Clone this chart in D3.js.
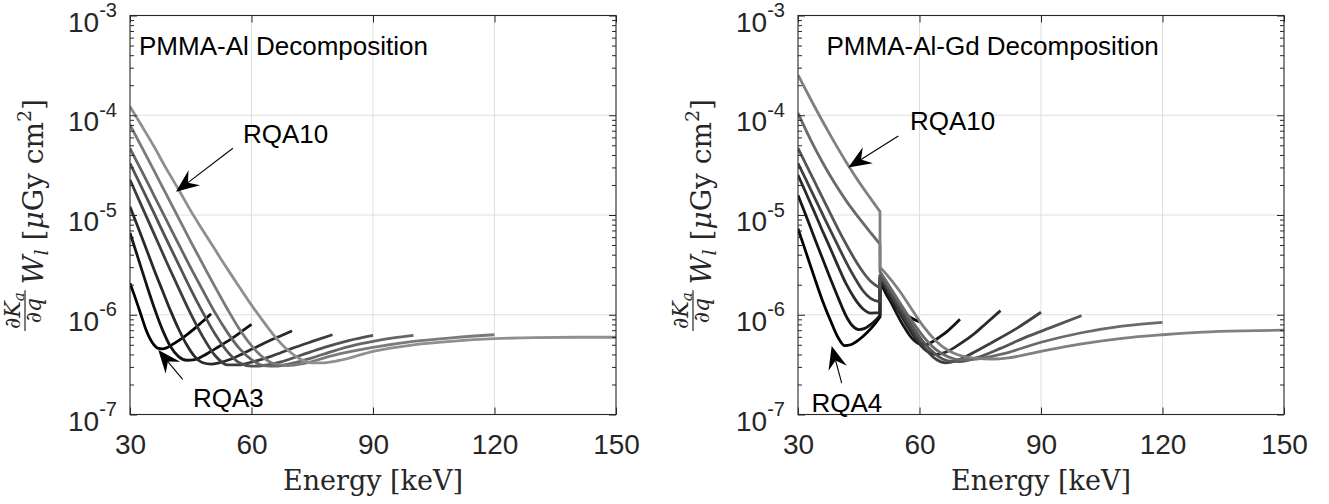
<!DOCTYPE html>
<html><head><meta charset="utf-8">
<script src="https://cdn.jsdelivr.net/npm/d3@7"></script>
<style>body{margin:0;background:#fff} svg{display:block}</style>
</head><body><svg id="c" width="1329" height="504"></svg>
<script>
// ---------------- data ----------------
const energyTicks = [30, 60, 90, 120, 150];
const decadeExps = [-7, -6, -5, -4, -3];
const gdKEdge = 50.25;

const alLabels = ["RQA3","RQA4","RQA5","RQA6","RQA7","RQA8","RQA9","RQA10"];
const alRQA3 = [[30,2.07e-6],[31,1.6e-6],[32,1.22e-6],[33,9.2e-7],[34,7.0e-7],[35,5.7e-7],[36,4.95e-7],[37,4.6e-7],[38,4.55e-7],[39,4.65e-7],[40,4.9e-7],[42,5.5e-7],[44,6.3e-7],[46,7.3e-7],[48,8.6e-7],[50,1.02e-6]];
const alRQA4 = [[30,6.6e-6],[32,3.7e-6],[34,2.05e-6],[36,1.17e-6],[38,7.1e-7],[40,4.8e-7],[42,3.8e-7],[44,3.5e-7],[46,3.55e-7],[48,3.85e-7],[50,4.3e-7],[52,4.8e-7],[54,5.4e-7],[56,6.1e-7],[58,7.0e-7],[60,8.0e-7]];
const alRQA5 = [[30,1.21e-5],[32,7.5e-6],[34,4.6e-6],[36,2.8e-6],[38,1.75e-6],[40,1.1e-6],[42,7.2e-7],[44,5.0e-7],[46,3.8e-7],[48,3.3e-7],[50,3.2e-7],[52,3.3e-7],[55,3.6e-7],[58,4.1e-7],[61,4.7e-7],[64,5.4e-7],[67,6.1e-7],[70,6.9e-7]];
const alRQA6 = [[30,2.25e-5],[33,1.2e-5],[36,6.4e-6],[39,3.4e-6],[42,1.85e-6],[45,1.02e-6],[48,6.0e-7],[51,3.9e-7],[54,3.15e-7],[57,3.15e-7],[60,3.35e-7],[65,3.85e-7],[70,4.6e-7],[75,5.4e-7],[80,6.3e-7]];
const alRQA7 = [[30,3.3e-5],[33,1.85e-5],[36,1.03e-5],[39,5.7e-6],[42,3.2e-6],[45,1.8e-6],[48,1.05e-6],[51,6.4e-7],[54,4.3e-7],[57,3.3e-7],[60,3.05e-7],[63,3.1e-7],[67,3.35e-7],[72,3.9e-7],[78,4.7e-7],[84,5.5e-7],[90,6.2e-7]];
const alRQA8 = [[30,4.66e-5],[33,2.7e-5],[36,1.55e-5],[39,8.9e-6],[42,5.1e-6],[45,2.95e-6],[48,1.75e-6],[51,1.05e-6],[54,6.7e-7],[57,4.6e-7],[60,3.55e-7],[63,3.1e-7],[66,3.05e-7],[70,3.25e-7],[75,3.7e-7],[80,4.3e-7],[85,4.9e-7],[90,5.4e-7],[95,5.85e-7],[100,6.2e-7]];
const alRQA9 = [[30,8.0e-5],[33,4.7e-5],[36,2.75e-5],[39,1.6e-5],[42,9.3e-6],[45,5.4e-6],[48,3.2e-6],[51,1.9e-6],[54,1.15e-6],[57,7.2e-7],[60,4.9e-7],[63,3.7e-7],[66,3.2e-7],[69,3.1e-7],[73,3.25e-7],[80,3.9e-7],[90,4.7e-7],[100,5.4e-7],[110,5.9e-7],[120,6.3e-7]];
const alRQA10 = [[30,1.22e-4],[33,7.7e-5],[36,4.8e-5],[39,2.9e-5],[42,1.8e-5],[45,1.1e-5],[48,7.0e-6],[51,4.5e-6],[54,2.9e-6],[57,1.9e-6],[60,1.25e-6],[63,8.5e-7],[66,5.9e-7],[69,4.4e-7],[72,3.6e-7],[75,3.3e-7],[78,3.3e-7],[82,3.5e-7],[90,4.3e-7],[100,5.0e-7],[110,5.45e-7],[120,5.75e-7],[130,5.9e-7],[140,5.95e-7],[150,5.95e-7]];

const gdLabels = ["RQA4","RQA5","RQA6","RQA7","RQA8","RQA9","RQA10"];
const gdRQA4 = [[30,7.3e-6],[32,4.2e-6],[34,2.4e-6],[36,1.4e-6],[38,8.8e-7],[40,5.8e-7],[41.5,4.9e-7],[43,5.0e-7],[45,5.6e-7],[47,6.6e-7],[49,8.1e-7],[50.24,9.5e-7],[50.26,2.2e-6],[52,1.55e-6],[54,1.2e-6],[56,1.03e-6],[58,9.3e-7],[60,8.5e-7]];
const gdRQA5 = [[30,1.58e-5],[32,9.8e-6],[34,6.0e-6],[36,3.7e-6],[38,2.3e-6],[40,1.45e-6],[42,9.5e-7],[43.5,7.7e-7],[45,7.1e-7],[46.5,7.3e-7],[48,8.0e-7],[50.24,9.8e-7],[50.26,2.3e-6],[52,1.6e-6],[54,1.1e-6],[56,7.8e-7],[58,5.9e-7],[60,5.1e-7],[61.5,5.0e-7],[63,5.3e-7],[65,6.0e-7],[67,6.9e-7],[70,9.0e-7]];
const gdRQA6 = [[30,2.52e-5],[32,1.65e-5],[34,1.08e-5],[36,7.0e-6],[38,4.6e-6],[40,3.0e-6],[42,2.0e-6],[44,1.45e-6],[46,1.15e-6],[48,1.04e-6],[50.24,1.05e-6],[50.26,2.4e-6],[52,1.75e-6],[55,1.05e-6],[58,6.6e-7],[61,4.6e-7],[64,4.0e-7],[67,4.3e-7],[70,5.1e-7],[73,6.2e-7],[76,7.9e-7],[80,1.1e-6]];
const gdRQA7 = [[30,3.3e-5],[32,2.25e-5],[34,1.52e-5],[36,1.03e-5],[38,7.0e-6],[40,4.8e-6],[42,3.3e-6],[44,2.35e-6],[46,1.75e-6],[48,1.45e-6],[50.24,1.35e-6],[50.26,2.45e-6],[52,1.85e-6],[55,1.15e-6],[58,7.2e-7],[61,4.8e-7],[64,3.6e-7],[66.5,3.3e-7],[69,3.45e-7],[73,4.1e-7],[78,5.3e-7],[84,7.3e-7],[90,1.06e-6]];
const gdRQA8 = [[30,4.67e-5],[32,3.2e-5],[34,2.2e-5],[36,1.5e-5],[38,1.03e-5],[40,7.1e-6],[42,5.0e-6],[44,3.6e-6],[46,2.7e-6],[48,2.15e-6],[50.24,1.85e-6],[50.26,2.5e-6],[52,1.95e-6],[55,1.25e-6],[58,8.0e-7],[61,5.3e-7],[64,4.0e-7],[67,3.45e-7],[70,3.4e-7],[74,3.7e-7],[80,4.6e-7],[86,5.9e-7],[93,7.6e-7],[100,9.8e-7]];
const gdRQA9 = [[30,1.05e-4],[33,5.8e-5],[36,3.4e-5],[39,2.1e-5],[42,1.37e-5],[45,9.4e-6],[48,6.6e-6],[50.24,5.1e-6],[50.26,2.7e-6],[52,2.1e-6],[55,1.35e-6],[58,8.8e-7],[61,6.0e-7],[64,4.5e-7],[67,3.8e-7],[70,3.55e-7],[74,3.6e-7],[80,4.0e-7],[90,5.3e-7],[100,6.6e-7],[110,7.7e-7],[120,8.4e-7]];
const gdRQA10 = [[30,2.53e-4],[33,1.48e-4],[36,8.8e-5],[39,5.35e-5],[42,3.34e-5],[45,2.16e-5],[48,1.45e-5],[50.24,1.08e-5],[50.26,3.0e-6],[52,2.5e-6],[55,1.75e-6],[58,1.15e-6],[61,7.6e-7],[64,5.5e-7],[67,4.4e-7],[70,3.9e-7],[74,3.65e-7],[78,3.6e-7],[82,3.7e-7],[90,4.3e-7],[100,5.1e-7],[110,5.8e-7],[120,6.3e-7],[130,6.7e-7],[140,6.9e-7],[150,7.0e-7]];

const alCurves = [alRQA3, alRQA4, alRQA5, alRQA6, alRQA7, alRQA8, alRQA9, alRQA10];
const gdCurves = [gdRQA4, gdRQA5, gdRQA6, gdRQA7, gdRQA8, gdRQA9, gdRQA10];

const alTitle = "PMMA-Al Decomposition";
const gdTitle = "PMMA-Al-Gd Decomposition";
const alNotes = [{text:"RQA10", at:[57.9,5.27e-5]}, {text:"RQA3", at:[45.56,1.19e-7]}];
const alArrows = [{from:[55.4,4.67e-5], to:[41.36,1.71e-5]}, {from:[43.0,2.25e-7], to:[36.99,4.43e-7]}];
const gdNotes = [{text:"RQA10", at:[57.65,7.11e-5]}, {text:"RQA4", at:[33.33,1.06e-7]}];
const gdArrows = [{from:[54.77,6.19e-5], to:[42.42,3.0e-5]}, {from:[40.79,2.06e-7], to:[38.32,4.86e-7]}];

// ---------------- drawing ----------------
const svg = d3.select("#c");
const W = 486, TOP = 15.5, BOTTOM = 414.5;
const AX = "#262626";
const SANS = "'Liberation Sans', Arial, sans-serif";
const SERIF = "'DejaVu Serif', serif";

function drawPanel(cfg) {
  const L = cfg.left;
  const x = d3.scaleLinear().domain([30, 150]).range([L, L + W]);
  const y = d3.scaleLog().domain([1e-7, 1e-3]).range([BOTTOM, TOP]);
  const g = svg.append("g");

  // grid
  g.selectAll(null).data(energyTicks.slice(1, -1)).join("line")
    .attr("x1", d => x(d)).attr("x2", d => x(d)).attr("y1", TOP).attr("y2", BOTTOM)
    .attr("stroke", "#dfdfdf").attr("stroke-width", 1);
  g.selectAll(null).data(decadeExps.slice(1, -1).map(e => Math.pow(10, e))).join("line")
    .attr("x1", L).attr("x2", L + W).attr("y1", d => y(d)).attr("y2", d => y(d))
    .attr("stroke", "#dfdfdf").attr("stroke-width", 1);

  // clip
  const cid = "clip" + L;
  svg.append("clipPath").attr("id", cid).append("rect")
    .attr("x", L).attr("y", TOP).attr("width", W).attr("height", BOTTOM - TOP);

  const line = d3.line().x(d => x(d[0])).y(d => y(d[1])).curve(d3.curveMonotoneX);
  const n = cfg.curves.length;
  const cg = g.append("g").attr("clip-path", `url(#${cid})`);
  cfg.curves.forEach((c, i) => {
    const lv = Math.round(255 * cfg.maxGray * i / (n - 1));
    const col = d3.rgb(lv, lv, lv).formatHex();
    let dPath;
    const pre = c.filter(p => p[0] < gdKEdge), post = c.filter(p => p[0] >= gdKEdge);
    if (cfg.edge && post.length && pre.length) {
      dPath = line(pre) + "L" + line(post).slice(1);
    } else {
      dPath = line(c);
    }
    cg.append("path").attr("d", dPath).attr("fill", "none")
      .attr("stroke", col).attr("stroke-width", 2.8)
      .attr("stroke-linejoin", "round").attr("stroke-linecap", "butt");
  });

  // axes (ticks inward on all sides)
  const majorY = decadeExps.map(e => Math.pow(10, e));
  const minorY = [];
  decadeExps.slice(0, -1).forEach(e => { for (let m = 2; m <= 9; m++) minorY.push(m * Math.pow(10, e)); });

  const styleAxis = sel => { sel.select(".domain").remove(); sel.selectAll("line").attr("stroke", AX); };

  svg.append("g").attr("transform", `translate(0,${BOTTOM})`)
    .call(d3.axisBottom(x).tickValues(energyTicks).tickSizeInner(-7).tickSizeOuter(0).tickPadding(20).tickFormat(d3.format("d")))
    .call(styleAxis)
    .call(s => s.selectAll("text").attr("font-family", SANS).attr("font-size", 28).attr("fill", AX));
  svg.append("g").attr("transform", `translate(0,${TOP})`)
    .call(d3.axisTop(x).tickValues(energyTicks).tickSizeInner(-7).tickSizeOuter(0).tickFormat(""))
    .call(styleAxis);
  [[d3.axisLeft, L], [d3.axisRight, L + W]].forEach(([ax, px]) => {
    svg.append("g").attr("transform", `translate(${px},0)`)
      .call(ax(y).tickValues(majorY).tickSizeInner(-7).tickSizeOuter(0).tickFormat(""))
      .call(styleAxis);
    svg.append("g").attr("transform", `translate(${px},0)`)
      .call(ax(y).tickValues(minorY).tickSizeInner(-4).tickSizeOuter(0).tickFormat(""))
      .call(styleAxis);
  });

  // y tick labels 10^e
  decadeExps.forEach(e => {
    const t = svg.append("text").attr("x", L - 13).attr("y", y(Math.pow(10, e)) + 16)
      .attr("text-anchor", "end").attr("font-family", SANS).attr("fill", AX).attr("font-size", 28);
    t.append("tspan").text("10");
    t.append("tspan").attr("font-size", 20).attr("dy", -14.5).text(String(e));
  });

  // box
  svg.append("rect").attr("x", L).attr("y", TOP).attr("width", W).attr("height", BOTTOM - TOP)
    .attr("fill", "none").attr("stroke", AX).attr("stroke-width", 1.1);

  // title inside axes
  svg.append("text").attr("x", L + cfg.titleDx).attr("y", TOP + 39.5)
    .attr("font-family", SANS).attr("font-size", 26).attr("fill", "#000").text(cfg.title);

  // notes
  cfg.notes.forEach(nt => {
    svg.append("text").attr("x", x(nt.at[0])).attr("y", y(nt.at[1]))
      .attr("font-family", SANS).attr("font-size", 26).attr("fill", "#000").text(nt.text);
  });
  // arrows
  cfg.arrows.forEach(a => {
    const x0 = x(a.from[0]), y0 = y(a.from[1]), x1 = x(a.to[0]), y1 = y(a.to[1]);
    const dx = x1 - x0, dy = y1 - y0, len = Math.hypot(dx, dy);
    const ux = dx / len, uy = dy / len, nx = -uy, ny = ux;
    const Lh = 23, Wh = 9.5, Nh = 15;
    svg.append("line").attr("x1", x0).attr("y1", y0)
      .attr("x2", x1 - ux * Nh).attr("y2", y1 - uy * Nh)
      .attr("stroke", "#000").attr("stroke-width", 1.1);
    const pts = [[x1, y1],
      [x1 - ux * Lh + nx * Wh, y1 - uy * Lh + ny * Wh],
      [x1 - ux * Nh, y1 - uy * Nh],
      [x1 - ux * Lh - nx * Wh, y1 - uy * Lh - ny * Wh]];
    svg.append("path").attr("d", "M" + pts.map(p => p.join(",")).join("L") + "Z").attr("fill", "#000");
  });

  // x label
  svg.append("text").attr("x", L + W / 2).attr("y", 490).attr("text-anchor", "middle")
    .attr("font-family", SERIF).attr("font-size", 27).attr("fill", AX).text("Energy [keV]");

  // y label (rotated LaTeX-like)
  const lg = svg.append("g").attr("transform", `translate(${L - 87},${(TOP + BOTTOM) / 2}) rotate(-90)`)
    .attr("font-family", SERIF).attr("fill", AX);
  const num = lg.append("text").attr("font-size", 22).attr("y", -23);
  num.append("tspan").text("∂");
  num.append("tspan").attr("font-style", "italic").text("K");
  num.append("tspan").attr("font-style", "italic").attr("font-size", 15).attr("dy", 4).text("a");
  const den = lg.append("text").attr("font-size", 22).attr("y", -2);
  den.append("tspan").text("∂");
  den.append("tspan").attr("font-style", "italic").text("q");
  const main = lg.append("text").attr("font-size", 28).attr("y", 0);
  main.append("tspan").attr("font-style", "italic").text("W");
  main.append("tspan").attr("font-style", "italic").attr("font-size", 19).attr("dy", 5).text("l");
  main.append("tspan").attr("dy", -5).text(" [");
  main.append("tspan").attr("font-style", "italic").text("μ");
  main.append("tspan").text("Gy cm");
  main.append("tspan").attr("font-size", 19).attr("dy", -12).text("2");
  main.append("tspan").attr("dy", 12).text("]");
  const nw = num.node().getComputedTextLength(), dw = den.node().getComputedTextLength();
  const mw = main.node().getComputedTextLength();
  const fw = Math.max(nw, dw) + 4;
  const total = fw + 6 + mw;
  const sx = -total / 2;
  num.attr("x", sx + (fw - nw) / 2);
  den.attr("x", sx + (fw - dw) / 2);
  lg.append("line").attr("x1", sx).attr("x2", sx + fw).attr("y1", -18).attr("y2", -18)
    .attr("stroke", AX).attr("stroke-width", 1.2);
  main.attr("x", sx + fw + 6);
}

drawPanel({left: 130, curves: alCurves, maxGray: 0.56, edge: false, title: alTitle, titleDx: 9, notes: alNotes, arrows: alArrows});
drawPanel({left: 798, curves: gdCurves, maxGray: 0.5, edge: true, title: gdTitle, titleDx: 28.5, notes: gdNotes, arrows: gdArrows});
</script></body></html>
